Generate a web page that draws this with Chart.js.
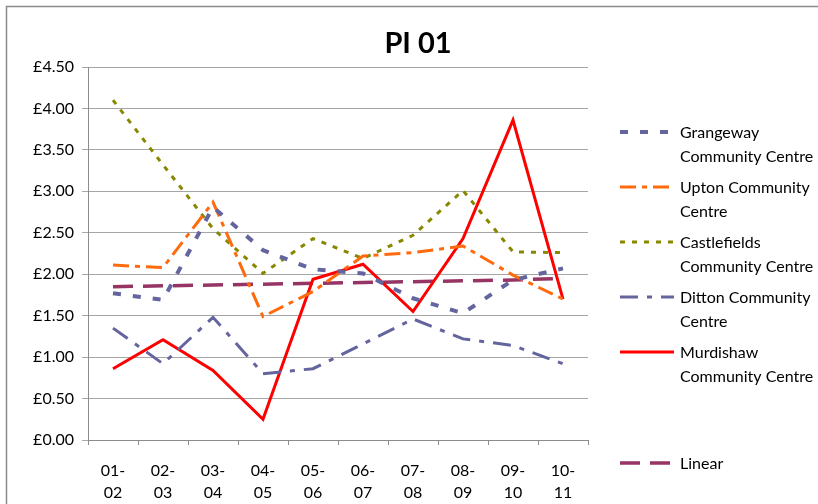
<!DOCTYPE html>
<html>
<head>
<meta charset="utf-8">
<title>PI 01</title>
<script src="https://cdn.jsdelivr.net/npm/chart.js@4"></script>
<style>
    html, body { margin: 0; padding: 0; background: #fff; }
</style>
</head>
<body>
<canvas id="piChart" width="818" height="504"></canvas>
<script>
// === Data ===
const years = [['01-', '02'], ['02-', '03'], ['03-', '04'], ['04-', '05'], ['05-', '06'],
               ['06-', '07'], ['07-', '08'], ['08-', '09'], ['09-', '10'], ['10-', '11']];
const grangeway    = [1.77, 1.69, 2.81, 2.29, 2.06, 2.01, 1.71, 1.53, 1.93, 2.07];
const upton        = [2.11, 2.08, 2.87, 1.49, 1.79, 2.22, 2.26, 2.34, 1.99, 1.70];
const castlefields = [4.10, 3.32, 2.55, 2.01, 2.43, 2.19, 2.47, 3.01, 2.27, 2.26];
const ditton       = [1.35, 0.92, 1.48, 0.80, 0.86, 1.16, 1.46, 1.22, 1.14, 0.92];
const murdishaw    = [0.86, 1.21, 0.84, 0.25, 1.94, 2.12, 1.55, 2.43, 3.86, 1.70];
const linear       = [1.85, 1.86, 1.87, 1.88, 1.89, 1.90, 1.91, 1.92, 1.93, 1.95];

const seriesNames = ['Grangeway Community Centre', 'Upton Community Centre', 'Castlefields Community Centre',
                     'Ditton Community Centre', 'Murdishaw Community Centre', 'Linear'];
// legend text as it wraps in the picture
const legendLines = [['Grangeway', 'Community Centre'], ['Upton Community', 'Centre'], ['Castlefields', 'Community Centre'],
                     ['Ditton Community', 'Centre'], ['Murdishaw', 'Community Centre'], ['Linear']];

const FONT = 'Lato, "Open Sans", sans-serif';

// frame + title
const framePlugin = {
    id: 'frame',
    beforeDraw(chart) {
        const c = chart.ctx;
        c.save();
        c.fillStyle = '#fff';
        c.fillRect(0, 0, chart.width, chart.height);
        c.strokeStyle = '#8c8c8c';
        c.lineWidth = 1.5;
        c.strokeRect(6.5, 6.5, 900, 600);
        c.fillStyle = '#000';
        c.font = 'bold 29px ' + FONT;
        c.textAlign = 'center';
        c.textBaseline = 'middle';
        c.fillText('PI 01', 418, 44);
        c.restore();
    }
};

// legend on the right, one block per series
const legendPlugin = {
    id: 'sideLegend',
    afterDraw(chart) {
        const c = chart.ctx;
        const rows = [132, 187, 242, 297, 352, 463];
        c.save();
        chart.data.datasets.forEach((ds, i) => {
            const y = rows[i];
            c.beginPath();
            c.strokeStyle = ds.borderColor;
            c.lineWidth = ds.borderWidth;
            c.setLineDash(ds.borderDash || []);
            c.moveTo(620, y);
            c.lineTo(674, y);
            c.stroke();
            c.setLineDash([]);
            c.fillStyle = '#000';
            c.font = '16px ' + FONT;
            c.textAlign = 'left';
            c.textBaseline = 'middle';
            legendLines[i].forEach((txt, j) => c.fillText(txt, 680, y + 1 + j * 24));
        });
        c.restore();
    }
};

const mk = (label, data, color, width, dash) => ({
    label, data,
    borderColor: color,
    backgroundColor: color,
    borderWidth: width,
    borderDash: dash,
    pointRadius: 0,
    tension: 0,
    fill: false
});

const ctx = document.getElementById('piChart').getContext('2d');
const chart = new Chart(ctx, {
    type: 'line',
    data: {
        labels: years,
        datasets: [
            mk(seriesNames[0], grangeway, '#64649e', 4, [8, 12]),
            mk(seriesNames[1], upton, '#ff6a0d', 3, [16, 6, 5, 6]),
            mk(seriesNames[2], castlefields, '#878700', 3, [5, 7]),
            mk(seriesNames[3], ditton, '#64649e', 3, [18, 9, 5, 9]),
            mk(seriesNames[4], murdishaw, '#ff0000', 3, []),
            mk(seriesNames[5], linear, '#963464', 3.5, [20, 10])
        ]
    },
    options: {
        responsive: false,
        animation: false,
        devicePixelRatio: 1,
        layout: { padding: { left: 0, top: 67, right: 230, bottom: 0 } },
        plugins: {
            legend: { display: false },
            title: { display: false },
            tooltip: { enabled: false }
        },
        scales: {
            x: {
                offset: true,
                afterFit: s => { s.height = 64; },
                border: { color: '#8c8c8c', width: 1 },
                grid: { offset: true, drawOnChartArea: false, drawTicks: true, tickLength: 5, color: '#8c8c8c' },
                ticks: { color: '#000', font: { family: FONT, size: 16, lineHeight: 1.375 }, padding: 15, maxRotation: 0, autoSkip: false }
            },
            y: {
                min: 0,
                max: 4.5,
                afterFit: s => { s.width = 88; },
                border: { color: '#8c8c8c', width: 1 },
                grid: { color: '#a6a6a6', tickLength: 6, drawTicks: true },
                ticks: {
                    stepSize: 0.5,
                    color: '#000',
                    padding: 8,
                    font: { family: FONT, size: 16 },
                    callback: v => '£' + Number(v).toFixed(2)
                }
            }
        }
    },
    plugins: [framePlugin, legendPlugin]
});
</script>
</body>
</html>
